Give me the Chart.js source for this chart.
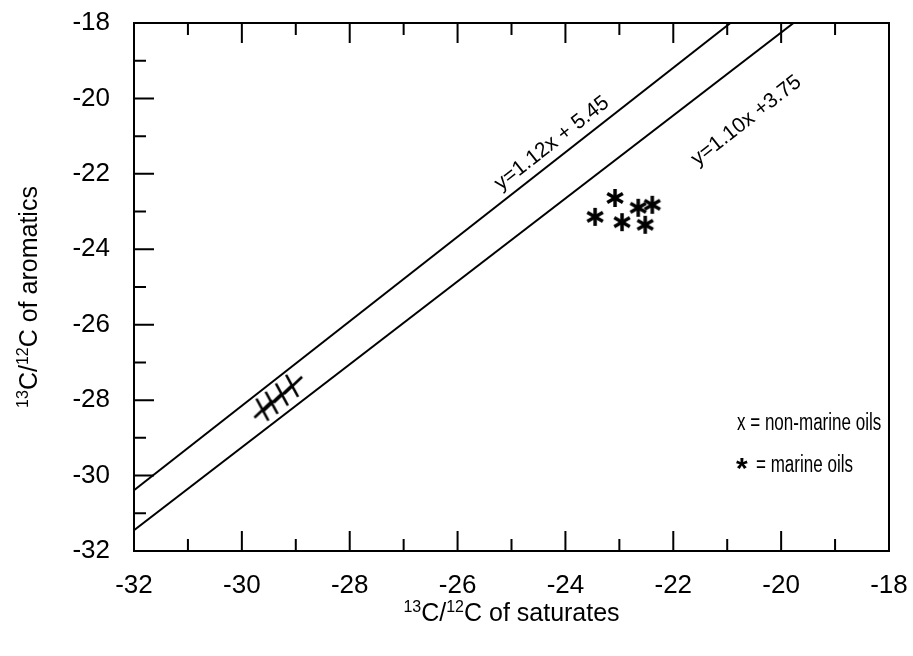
<!DOCTYPE html>
<html>
<head>
<meta charset="utf-8">
<script src="https://cdn.jsdelivr.net/npm/chart.js@4/dist/chart.umd.min.js"></script>
<style>
html, body { margin: 0; padding: 0; background: #fff; }
#wrap { width: 913px; height: 656px; }
</style>
</head>
<body>
<div id="wrap"><canvas id="grafico"></canvas></div>
<script>
// valores
var xTicks = [-32, -30, -28, -26, -24, -22, -20, -18];
var yTicks = [-32, -30, -28, -26, -24, -22, -20, -18];

var noMarinoX = [-29.6, -29.43, -29.24, -29.05];
var noMarinoY = [-28.25, -28.07, -27.85, -27.62];

var marinoX = [-23.45, -23.08, -22.95, -22.65, -22.52, -22.39];
var marinoY = [-23.14, -22.64, -23.28, -22.9, -23.35, -22.82];

// rectas y=1.12x+5.45 y y=1.10x+3.75 (extremos dentro del marco)
var rectaSupX = [-32, -20.94];
var rectaSupY = [-30.39, -18];
var rectaInfX = [-32, -19.77];
var rectaInfY = [-31.45, -18];

var etiquetasRecta = ["y=1.12x + 5.45", "y=1.10x +3.75"];
var etiquetaX = [-25.2, -21.55];
var etiquetaY = [-22.45, -21.8];

var leyenda = ["x = non-marine oils", "= marine oils"];

var FUENTE = '"Liberation Sans", Arial, sans-serif';

function puntos(xs, ys) {
    var out = [];
    for (var i = 0; i < xs.length; i++) out.push({ x: xs[i], y: ys[i] });
    return out;
}

// asterisco de 6 brazos
function crearEstrella() {
    var c = document.createElement('canvas');
    c.width = 20; c.height = 20;
    var g = c.getContext('2d');
    g.strokeStyle = '#000';
    g.lineWidth = 3.5;
    for (var k = 0; k < 3; k++) {
        var a = Math.PI / 2 + k * Math.PI / 3;
        g.beginPath();
        g.moveTo(10 + 9 * Math.cos(a), 10 + 9 * Math.sin(a));
        g.lineTo(10 - 9 * Math.cos(a), 10 - 9 * Math.sin(a));
        g.stroke();
    }
    return c;
}

function crearCruz() {
    var c = document.createElement('canvas');
    c.width = 22; c.height = 26;
    var g = c.getContext('2d');
    g.strokeStyle = '#000';
    g.lineWidth = 2.6;
    g.beginPath();
    g.moveTo(4, 2); g.lineTo(16, 24);
    g.moveTo(2, 21); g.lineTo(20, 4);
    g.stroke();
    return c;
}

function texto(ctx, partes, x, y, base, sup) {
    // partes: [texto, esSuperindice]
    var ancho = 0, i;
    for (i = 0; i < partes.length; i++) {
        ctx.font = (partes[i][1] ? sup : base) + 'px ' + FUENTE;
        ancho += ctx.measureText(partes[i][0]).width;
    }
    var cx = x - ancho / 2;
    for (i = 0; i < partes.length; i++) {
        ctx.font = (partes[i][1] ? sup : base) + 'px ' + FUENTE;
        ctx.fillText(partes[i][0], cx, partes[i][1] ? y - base * 0.38 : y);
        cx += ctx.measureText(partes[i][0]).width;
    }
}

// texto algo estrecho, como en la figura
function textoEstrecho(ctx, s, x, y) {
    ctx.save();
    ctx.translate(x, y);
    ctx.scale(0.74, 1);
    ctx.fillText(s, 0, 0);
    ctx.restore();
}

var marco = {
    id: 'marco',
    afterDatasetsDraw: function (chart) {
        var ctx = chart.ctx;
        var a = chart.chartArea;
        var sx = chart.scales.x, sy = chart.scales.y;
        ctx.save();
        ctx.strokeStyle = '#000';
        ctx.fillStyle = '#000';
        ctx.lineWidth = 2;
        ctx.strokeRect(a.left, a.top, a.right - a.left, a.bottom - a.top);

        // marcas hacia dentro
        var v, p, largo;
        ctx.beginPath();
        for (v = -32; v <= -18; v++) {
            largo = (v % 2 === 0) ? 20 : 12;
            p = sx.getPixelForValue(v);
            ctx.moveTo(p, a.bottom); ctx.lineTo(p, a.bottom - largo);
            ctx.moveTo(p, a.top); ctx.lineTo(p, a.top + largo);
            p = sy.getPixelForValue(v);
            ctx.moveTo(a.left, p); ctx.lineTo(a.left + largo, p);
        }
        ctx.stroke();

        // etiquetas de las rectas
        var ang = Math.atan2(
            sy.getPixelForValue(rectaSupY[1]) - sy.getPixelForValue(rectaSupY[0]),
            sx.getPixelForValue(rectaSupX[1]) - sx.getPixelForValue(rectaSupX[0]));
        ctx.font = '21px ' + FUENTE;
        ctx.textBaseline = 'alphabetic';
        ctx.textAlign = 'left';
        for (var i = 0; i < etiquetasRecta.length; i++) {
            ctx.save();
            ctx.translate(sx.getPixelForValue(etiquetaX[i]), sy.getPixelForValue(etiquetaY[i]));
            ctx.rotate(ang);
            ctx.fillText(etiquetasRecta[i], 0, 0);
            ctx.restore();
        }

        // leyenda
        ctx.font = '23px ' + FUENTE;
        textoEstrecho(ctx, leyenda[0], 737, 430);
        ctx.font = 'bold 30px ' + FUENTE;
        ctx.fillText('*', 736, 478);
        ctx.font = '23px ' + FUENTE;
        textoEstrecho(ctx, leyenda[1], 756, 472);

        // titulos de ejes con superindices
        texto(ctx, [['13', true], ['C/', false], ['12', true], ['C of saturates', false]],
            (a.left + a.right) / 2, 621, 25, 16);
        ctx.save();
        ctx.translate(37, 297);
        ctx.rotate(-Math.PI / 2);
        texto(ctx, [['13', true], ['C/', false], ['12', true], ['C of aromatics', false]],
            0, 0, 25, 16);
        ctx.restore();
        ctx.restore();
    }
};

var cfgTicks = {
    color: '#000',
    font: { family: FUENTE, size: 26 },
    autoSkip: false,
    maxRotation: 0
};

new Chart(document.getElementById('grafico'), {
    type: 'scatter',
    data: {
        datasets: [
            {
                type: 'line',
                data: puntos(rectaSupX, rectaSupY),
                borderColor: '#000',
                borderWidth: 2,
                pointRadius: 0,
                fill: false
            },
            {
                type: 'line',
                data: puntos(rectaInfX, rectaInfY),
                borderColor: '#000',
                borderWidth: 2,
                pointRadius: 0,
                fill: false
            },
            {
                data: puntos(noMarinoX, noMarinoY),
                pointStyle: crearCruz(),
                pointRadius: 10
            },
            {
                data: puntos(marinoX, marinoY),
                pointStyle: crearEstrella(),
                pointRadius: 10
            }
        ]
    },
    options: {
        responsive: true,
        maintainAspectRatio: false,
        animation: false,
        layout: { padding: { top: 23, right: 24, left: 0, bottom: 0 } },
        plugins: { legend: { display: false }, tooltip: { enabled: false } },
        scales: {
            x: {
                type: 'linear',
                min: -32, max: -18,
                afterFit: function (s) {
                    s.height = 105;
                    s.paddingLeft = 0; s.paddingRight = 0;
                },
                afterBuildTicks: function (s) { s.ticks = xTicks.map(function (v) { return { value: v }; }); },
                grid: { display: false },
                border: { display: false },
                ticks: Object.assign({ padding: 11 }, cfgTicks)
            },
            y: {
                type: 'linear',
                min: -32, max: -18,
                afterFit: function (s) {
                    s.width = 134;
                    s.paddingTop = 0; s.paddingBottom = 0;
                },
                afterBuildTicks: function (s) { s.ticks = yTicks.map(function (v) { return { value: v }; }); },
                grid: { display: false },
                border: { display: false },
                ticks: Object.assign({ padding: 16 }, cfgTicks)
            }
        }
    },
    plugins: [marco]
});
</script>
</body>
</html>
